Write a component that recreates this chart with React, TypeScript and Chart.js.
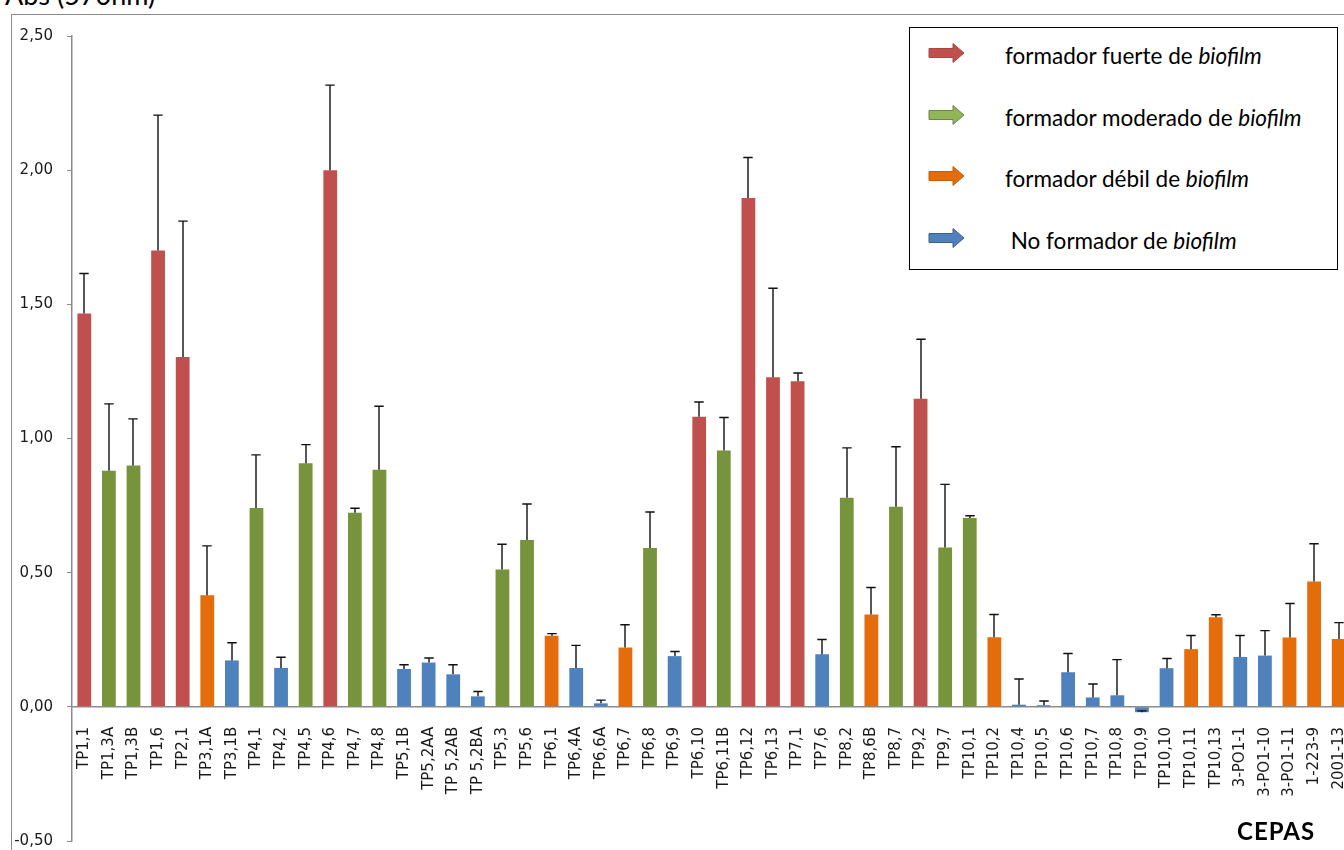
import React, { useEffect, useRef } from "react";
import { Chart, registerables } from "chart.js";

Chart.register(...registerables);

const categories = [
  "TP1,1", "TP1,3A", "TP1,3B", "TP1,6", "TP2,1", "TP3,1A", "TP3,1B", "TP4,1", "TP4,2", "TP4,5",
  "TP4,6", "TP4,7", "TP4,8", "TP5,1B", "TP5,2AA", "TP 5,2AB", "TP 5,2BA", "TP5,3", "TP5,6", "TP6,1",
  "TP6,4A", "TP6,6A", "TP6,7", "TP6,8", "TP6,9", "TP6,10", "TP6,11B", "TP6,12", "TP6,13", "TP7,1",
  "TP7,6", "TP8,2", "TP8,6B", "TP8,7", "TP9,2", "TP9,7", "TP10,1", "TP10,2", "TP10,4", "TP10,5",
  "TP10,6", "TP10,7", "TP10,8", "TP10,9", "TP10,10", "TP10,11", "TP10,13", "3-PO1-1", "3-PO1-10", "3-PO1-11",
  "1-223-9", "2001-13",
];

const values = [
  1.466, 0.88, 0.899, 1.701, 1.304, 0.416, 0.173, 0.741, 0.145, 0.908,
  2.0, 0.723, 0.884, 0.141, 0.165, 0.121, 0.039, 0.512, 0.622, 0.265,
  0.145, 0.013, 0.221, 0.592, 0.189, 1.081, 0.955, 1.896, 1.228, 1.213,
  0.196, 0.779, 0.344, 0.746, 1.148, 0.594, 0.704, 0.259, 0.008, 0.006,
  0.129, 0.035, 0.043, -0.02, 0.144, 0.215, 0.334, 0.186, 0.191, 0.258,
  0.467, 0.253,
];

const errors = [
  0.149, 0.249, 0.174, 0.504, 0.506, 0.184, 0.066, 0.198, 0.04, 0.069,
  0.317, 0.017, 0.236, 0.016, 0.017, 0.036, 0.018, 0.094, 0.134, 0.008,
  0.084, 0.012, 0.085, 0.134, 0.017, 0.055, 0.123, 0.151, 0.332, 0.031,
  0.055, 0.186, 0.101, 0.223, 0.222, 0.235, 0.008, 0.085, 0.096, 0.016,
  0.07, 0.05, 0.133, 0.005, 0.036, 0.051, 0.009, 0.08, 0.093, 0.127,
  0.141, 0.061,
];

// F = fuerte, M = moderado, D = débil, N = no formador
const groups = [
  "F", "M", "M", "F", "F", "D", "N", "M", "N", "M",
  "F", "M", "M", "N", "N", "N", "N", "M", "M", "D",
  "N", "N", "D", "M", "N", "F", "M", "F", "F", "F",
  "N", "M", "D", "M", "F", "M", "M", "D", "N", "N",
  "N", "N", "N", "N", "N", "D", "D", "N", "N", "D",
  "D", "D",
];

const yMin = -0.5;
const yMax = 2.5;
const yStep = 0.5;

const groupColors: Record<string, string> = {
  F: "#C0504D",
  M: "#77933C",
  D: "#E46C0A",
  N: "#4F81BD",
};

const legendPrefixes = [
  "formador fuerte de ",
  "formador moderado de ",
  "formador débil de ",
  " No formador de ",
];
const legendArrowColors = ["#C0504D", "#92B556", "#E46C0A", "#4F81BD"];
const legendArrowStrokes = ["#A84744", "#6F7F5A", "#C55E0A", "#3E5F86"];

const errorBarPlugin = {
  id: "errorBars",
  afterDatasetsDraw(chart: any) {
    const meta = chart.getDatasetMeta(0);
    const yScale = chart.scales.y;
    const ctx = chart.ctx;
    ctx.save();
    ctx.strokeStyle = "#111111";
    ctx.lineWidth = 1.4;
    meta.data.forEach((bar: any, i: number) => {
      const v = values[i];
      const top = v + errors[i];
      const x = Math.round(bar.x);
      const y0 = yScale.getPixelForValue(v);
      const y1 = yScale.getPixelForValue(top);
      ctx.beginPath();
      ctx.moveTo(x, y0);
      ctx.lineTo(x, y1);
      ctx.moveTo(x - 4.7, y1);
      ctx.lineTo(x + 4.7, y1);
      ctx.stroke();
    });
    ctx.restore();
  },
};

function Arrow({ fill, stroke }: { fill: string; stroke: string }) {
  return (
    <svg width="38" height="22" viewBox="0 0 38 22" style={{ display: "block" }}>
      <polygon
        points="1,6.5 25,6.5 25,1.5 36,11 25,20.5 25,15.5 1,15.5"
        fill={fill}
        stroke={stroke}
        strokeWidth="1"
      />
    </svg>
  );
}

export default function App() {
  const canvasRef = useRef<HTMLCanvasElement | null>(null);

  useEffect(() => {
    if (!canvasRef.current) return;
    const chart = new Chart(canvasRef.current, {
      type: "bar",
      data: {
        labels: categories,
        datasets: [
          {
            data: values,
            backgroundColor: groups.map((g) => groupColors[g]),
            borderWidth: 0,
            categoryPercentage: 1,
            barPercentage: 0.56,
          },
        ],
      },
      options: {
        responsive: false,
        animation: false,
        devicePixelRatio: 1,
        layout: { padding: { left: 0, right: 9, top: 36, bottom: 19 } },
        plugins: {
          legend: { display: false },
          tooltip: { enabled: false },
        },
        scales: {
          x: {
            position: { y: 0 } as any,
            afterFit: (scale: any) => {
              scale.height = 0;
              scale.paddingLeft = 0;
              scale.paddingRight = 0;
              scale.paddingTop = 0;
              scale.paddingBottom = 0;
            },
            grid: { display: false },
            border: { display: true, color: "#8C8C8C", width: 1.5 },
            ticks: {
              autoSkip: false,
              maxRotation: 90,
              minRotation: 90,
              padding: 12,
              color: "#1a1a1a",
              font: { family: "'DejaVu Sans', Verdana, sans-serif", size: 15 },
            },
          },
          y: {
            position: "left",
            min: yMin,
            max: yMax,
            afterFit: (scale: any) => {
              scale.width = 72;
              scale.paddingTop = 0;
              scale.paddingBottom = 0;
            },
            grid: {
              display: true,
              drawOnChartArea: false,
              drawTicks: true,
              tickLength: 5,
              color: "#8C8C8C",
            },
            border: { display: true, color: "#8C8C8C", width: 1.5 },
            ticks: {
              stepSize: yStep,
              padding: 14,
              color: "#1a1a1a",
              font: { family: "'DejaVu Sans', Verdana, sans-serif", size: 15 },
              callback: (v: any) => Number(v).toFixed(2).replace(".", ","),
            },
          },
        },
      },
      plugins: [errorBarPlugin],
    });
    return () => chart.destroy();
  }, []);

  return (
    <div
      style={{
        position: "fixed",
        left: 0,
        top: 0,
        width: 1344,
        height: 850,
        overflow: "hidden",
        background: "#ffffff",
      }}
    >
      <div
        style={{
          position: "absolute",
          left: 11,
          top: 14,
          width: 1400,
          height: 900,
          border: "1px solid #8C8C8C",
        }}
      />
      <div
        style={{
          position: "absolute",
          left: 5,
          top: -20,
          fontFamily: "Lato, 'Open Sans', sans-serif",
          fontSize: 27,
          lineHeight: "30px",
          color: "#000",
          whiteSpace: "nowrap",
        }}
      >
        Abs (570nm)
      </div>
      <canvas
        ref={canvasRef}
        width={1360}
        height={860}
        style={{ position: "absolute", left: 0, top: 0, width: 1360, height: 860 }}
      />
      <div
        style={{
          position: "absolute",
          left: 909,
          top: 27,
          width: 429,
          height: 243,
          border: "1px solid #000",
          background: "#fff",
          boxSizing: "border-box",
        }}
      >
        {legendPrefixes.map((p, i) => (
          <div
            key={i}
            style={{
              position: "absolute",
              left: 0,
              top: 10 + i * 61.7,
              height: 30,
              width: 427,
            }}
          >
            <div style={{ position: "absolute", left: 18, top: 4 }}>
              <Arrow fill={legendArrowColors[i]} stroke={legendArrowStrokes[i]} />
            </div>
            <div
              style={{
                position: "absolute",
                left: 95,
                top: 3,
                fontFamily: "Lato, 'Open Sans', sans-serif",
                fontSize: 22.5,
                lineHeight: "30px",
                color: "#000",
                whiteSpace: "pre",
              }}
            >
              {p}
              <i>biofilm</i>
            </div>
          </div>
        ))}
      </div>
      <div
        style={{
          position: "absolute",
          left: 1237,
          top: 817,
          fontFamily: "Lato, 'Open Sans', sans-serif",
          fontWeight: 700,
          fontSize: 24,
          lineHeight: "28px",
          color: "#000",
          letterSpacing: 1,
        }}
      >
        CEPAS
      </div>
    </div>
  );
}
